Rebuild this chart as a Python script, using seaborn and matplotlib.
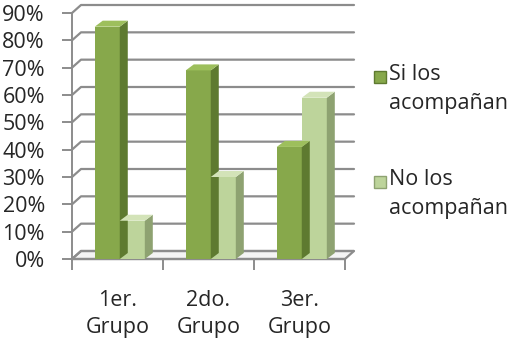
import numpy as np
import pandas as pd
import matplotlib
matplotlib.use("Agg")
import matplotlib.pyplot as plt
from matplotlib.patches import Polygon, Rectangle
from matplotlib.lines import Line2D
import seaborn as sns

# Data
grupos = ["1er.\nGrupo", "2do.\nGrupo", "3er.\nGrupo"]
series = ["Si los\nacompañan", "No los\nacompañan"]
si_vals = [0.85, 0.69, 0.41]
no_vals = [0.14, 0.30, 0.59]
y_ticks = [0.0, 0.1, 0.2, 0.3, 0.4, 0.5, 0.6, 0.7, 0.8, 0.9]
y_labels = ["0%", "10%", "20%", "30%", "40%", "50%", "60%", "70%", "80%", "90%"]

# Colours: front / side / top faces of each series
front_cols = ["#87A84B", "#BDD49B"]
side_cols = ["#5E7A30", "#8EA271"]
top_cols = ["#9DBF5C", "#D3E3B8"]
grid_col = "#8C8C8C"
FS = 15.5

sns.set_style("white")
plt.rcParams["font.family"] = ["Open Sans", "DejaVu Sans"]

W, H = 528, 345
fig = plt.figure(figsize=(W / 100, H / 100), dpi=100)
left, right, top, bottom = 72, 345, 13, 259
ax = fig.add_axes([left / W, 1 - bottom / H, (right - left) / W, (bottom - top) / H])

df = pd.DataFrame({
    "grupo": grupos * 2,
    "valor": si_vals + no_vals,
    "serie": [series[0]] * 3 + [series[1]] * 3,
})
sns.barplot(data=df, x="grupo", y="valor", hue="serie", palette=front_cols,
            width=0.55, saturation=1, legend=False, ax=ax, zorder=3,
            linewidth=0)
bars = list(ax.patches)

ax.set_xlim(-0.5, 2.5)
ax.set_ylim(0, 0.9)
for s in ax.spines.values():
    s.set_visible(False)
ax.set_xlabel("")
ax.set_ylabel("")


def px_to_data(dx, dy):
    p0 = ax.transData.transform((0, 0))
    p1 = ax.transData.inverted().transform(p0 + np.array([dx, dy]))
    return p1[0], p1[1]


wdx, wdy = px_to_data(9, 8)     # depth of walls / floor
bdx, bdy = px_to_data(8, 6)     # depth of each bar

x0, x1 = -0.5, 2.5
# Floor
floor = Polygon([(x0, 0), (x1, 0), (x1 + wdx, wdy), (x0 + wdx, wdy)],
                closed=True, facecolor="#F4F4F4", edgecolor=grid_col,
                linewidth=1.6, zorder=1, clip_on=False)
ax.add_patch(floor)
# Back-wall gridlines with the short left-wall connectors
for t in y_ticks:
    ax.add_line(Line2D([x0, x0 + wdx, x1 + wdx], [t, t + wdy, t + wdy],
                       color=grid_col, linewidth=1.6, zorder=1, clip_on=False))
# Front vertical axis
ax.add_line(Line2D([x0, x0], [0, 0.9], color=grid_col, linewidth=1.4,
                   zorder=2, clip_on=False))

# Bar side and top faces
for i, b in enumerate(bars):
    k = 0 if i < 3 else 1
    bx0 = b.get_x() + 0.025
    b.set_x(bx0)
    bx1 = bx0 + b.get_width()
    h = b.get_height()
    side = Polygon([(bx1, 0), (bx1 + bdx, bdy), (bx1 + bdx, h + bdy), (bx1, h)],
                   closed=True, facecolor=side_cols[k], edgecolor="none",
                   zorder=3, clip_on=False)
    topf = Polygon([(bx0, h), (bx1, h), (bx1 + bdx, h + bdy), (bx0 + bdx, h + bdy)],
                   closed=True, facecolor=top_cols[k], edgecolor="none",
                   zorder=3, clip_on=False)
    ax.add_patch(side)
    ax.add_patch(topf)

# Ticks
ax.set_yticks(y_ticks)
ax.set_yticklabels(y_labels)
ax.set_xticks([0, 1, 2])
ax.set_xticklabels(grupos, linespacing=1.42)
ax.set_xticks([-0.5, 0.5, 1.5, 2.5], minor=True)
ax.tick_params(axis="y", which="major", left=True, length=7, width=1.4,
               color=grid_col, pad=12.5, labelsize=FS)
ax.tick_params(axis="x", which="major", bottom=False, length=0, pad=22,
               labelsize=FS)
ax.tick_params(axis="x", which="minor", bottom=True, length=8, width=1.4,
               color=grid_col)
ax.add_line(Line2D([x0, x1], [0, 0], color=grid_col, linewidth=1.6,
                   zorder=2, clip_on=False))

# Legend drawn in figure pixels
leg_items = [(series[0], front_cols[0], side_cols[0], 77),
             (series[1], front_cols[1], side_cols[1], 182)]
for label, fc, ec, yc in leg_items:
    fig.patches.append(Rectangle((374 / W, 1 - (yc + 6) / H), 12 / W, 12 / H,
                                 transform=fig.transFigure, facecolor=fc,
                                 edgecolor=ec, linewidth=1.0))
    fig.text(389 / W, 1 - (yc - 13) / H, label, ha="left", va="top",
             fontsize=FS, linespacing=1.5)

fig.savefig("out.png", dpi=100)
